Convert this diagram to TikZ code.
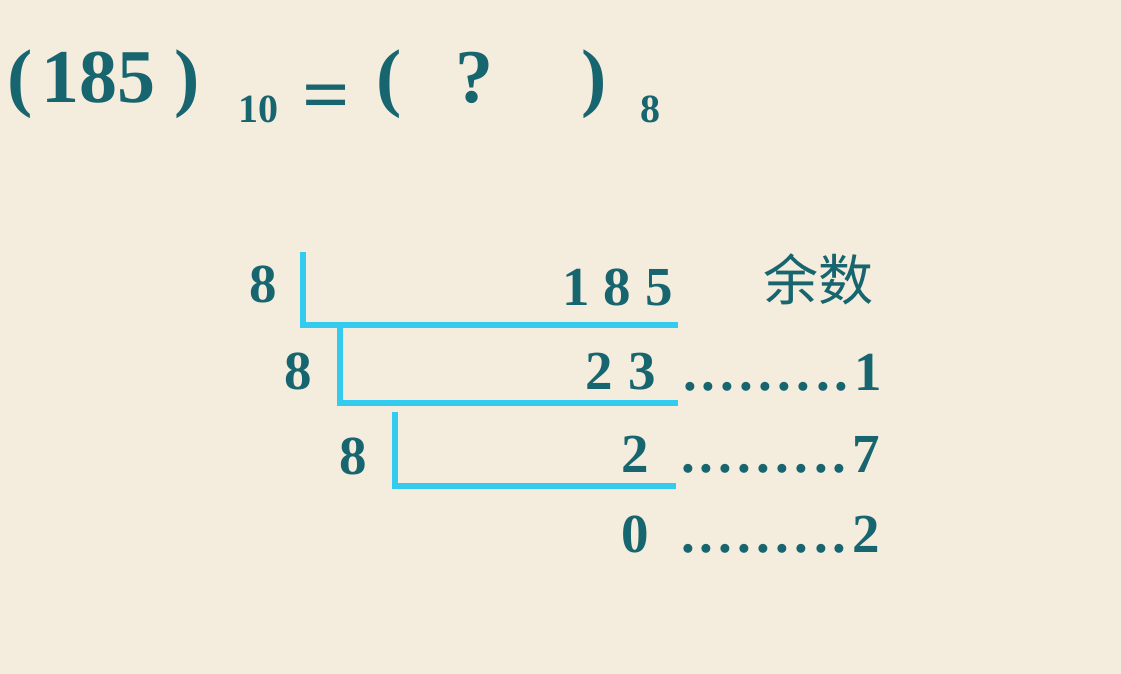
\documentclass[tikz,border=0pt]{standalone}
\usepackage{fontspec}
\setmainfont{Liberation Serif}
\newfontfamily\cjk{Noto Sans CJK SC}
\definecolor{bgc}{HTML}{F4ECDD}
\definecolor{txc}{HTML}{17656F}
\definecolor{lnc}{HTML}{33CCEE}
\newcommand{\remdots}[1]{\foreach \k in {1,...,9}{\makebox[19pt][l]{.}}#1}
\newcommand{\bigf}{\fontsize{76}{80}\selectfont\bfseries}
\newcommand{\subf}{\fontsize{40}{44}\selectfont\bfseries}
\newcommand{\midf}{\fontsize{55}{60}\selectfont\bfseries}
\begin{document}
\begin{tikzpicture}[x=1pt,y=-1pt,
  every node/.style={inner sep=0pt,outer sep=0pt,text=txc},
  big/.style={font=\bigf},
  sub/.style={font=\subf},
  mid/.style={font=\midf},
  bar/.style={draw=lnc,line width=6pt,line cap=butt,line join=miter}]
\fill[bgc] (0,0) rectangle (1121,674);
\useasboundingbox (0,0) rectangle (1121,674);
% title
\node[big,anchor=base west] (lp1) at (8,103) {(};
\node[big,anchor=base west] (n185) at (41,103) {185};
\node[big,anchor=base west] (rp1) at (174,103) {)};
\node[sub,anchor=base west] (s10) at (238,122) {10};
\node[big,anchor=base west,xscale=1.1] (eq) at (302,121) {=};
\node[big,anchor=base west] (lp2) at (376,103) {(};
\node[big,anchor=base west] (qm) at (455,103) {?};
\node[big,anchor=base west] (rp2) at (581,103) {)};
\node[sub,anchor=base west] (s8) at (640,122) {8};
% division lines
\draw[bar] (303,252) -- (303,325) -- (678,325);
\draw[bar] (340,325) -- (340,403) -- (678,403);
\draw[bar] (395,412) -- (395,486) -- (676,486);
% row 1
\node[mid,anchor=base west] (d1) at (249,302) {8};
\node[mid,anchor=base east] (q1) at (673,305) {1\hspace{14pt}8\hspace{14pt}5};
\node[anchor=base west,font=\cjk\fontsize{55}{60}\selectfont] (rem) at (763,300) {余数};
% row 2
\node[mid,anchor=base west] (d2) at (284,389) {8};
\node[mid,anchor=base east] (q2) at (656,389) {2\hspace{16pt}3};
\node[mid,anchor=base west] (r2) at (683,390) {\remdots{1}};
% row 3
\node[mid,anchor=base west] (d3) at (339,474) {8};
\node[mid,anchor=base east] (q3) at (649,472) {2};
\node[mid,anchor=base west] (r3) at (681,472) {\remdots{7}};
% row 4
\node[mid,anchor=base east] (q4) at (649,552) {0};
\node[mid,anchor=base west] (r4) at (681,552) {\remdots{2}};
\end{tikzpicture}
\end{document}
